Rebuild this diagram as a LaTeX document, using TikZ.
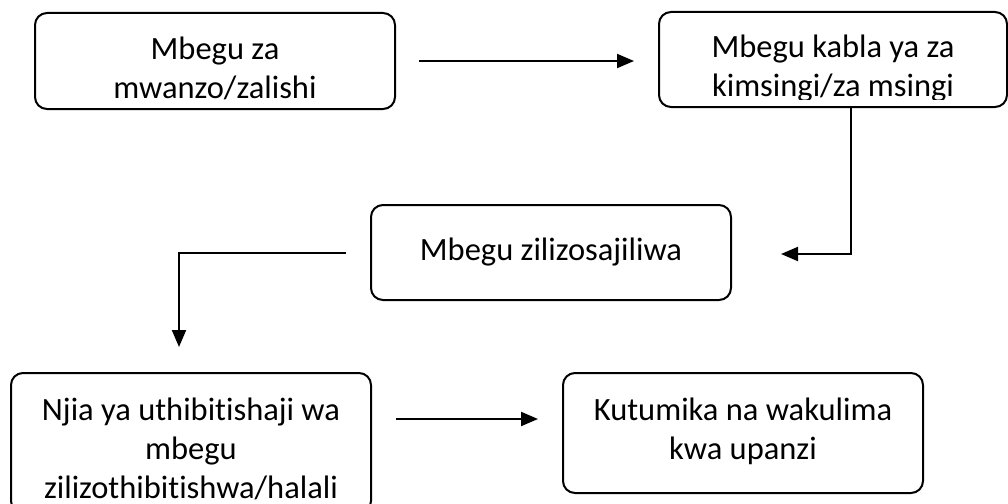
\documentclass[tikz,border=0pt]{standalone}
\usepackage{fontspec}
\setmainfont{Carlito}[Ligatures=NoCommon]
\usetikzlibrary{arrows.meta,calc}
\begin{document}
\begin{tikzpicture}[x=1pt,y=-1pt,
  box/.style={draw=black,line width=2pt,rounded corners=12pt,inner sep=0pt,fill=none},
  txt/.style={inner sep=0pt,align=center,anchor=base,text=black,font=\fontsize{32.5}{39}\selectfont},
  arr/.style={draw=black,line width=2pt,-{Triangle[length=17pt,width=14pt]}}]
\useasboundingbox[fill=white] (0,0) rectangle (1008,503);
% boxes
\node[box,minimum width=360pt,minimum height=96pt] (b1) at (215,61) {};
\node[box,minimum width=348pt,minimum height=95pt] (b2) at (833,59.5) {};
\node[box,minimum width=360pt,minimum height=95pt] (b3) at (551,252.5) {};
\node[box,minimum width=360pt,minimum height=140pt] (b4) at (191,443) {};
\node[box,minimum width=360pt,minimum height=120pt] (b5) at (743,433) {};
% texts (clipped like the reference)
\begin{scope}
\clip (b1.north west) rectangle ($(b1.south east)+(0,-9)$);
\node[txt] (t1) at (215,98) {Mbegu za\\mwanzo/zalishi};
\end{scope}
\begin{scope}
\clip (b2.north west) rectangle ($(b2.south east)+(0,-9)$);
\node[txt] (t2) at (833,96) {Mbegu kabla ya za\\kimsingi/za msingi};
\end{scope}
\node[txt] (t3) at (551,260) {Mbegu zilizosajiliwa};
\begin{scope}
\clip (b4.north west) rectangle (b4.east |- 0,501);
\node[txt] (t4) at (191,498) {Njia ya uthibitishaji wa\\mbegu\\zilizothibitishwa/halali};
\end{scope}
\node[txt] (t5) at (743,459) {Kutumika na wakulima\\kwa upanzi};
% connectors
\draw[arr,shorten <=23pt,shorten >=24pt] (b1.east) -- (b1.east -| b2.west);
\draw[arr,shorten >=49pt] ([xshift=18pt]b2.south) |- ([yshift=-1.5pt]b3.east);
\draw[arr,shorten <=24pt,shorten >=25pt] (b3.west) -| ([xshift=-12pt]b4.north);
\draw[arr] ([xshift=24pt,yshift=-47pt]b4.north east) -- ([xshift=-24pt,yshift=-47pt]b5.north west);
\end{tikzpicture}
\end{document}
